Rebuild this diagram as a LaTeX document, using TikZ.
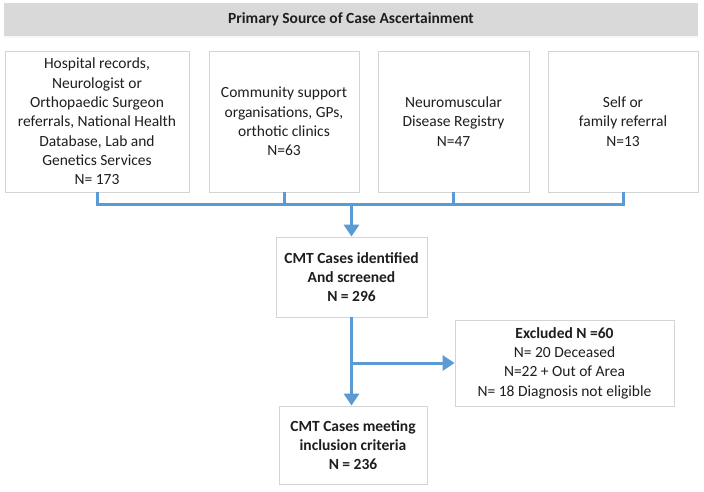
\documentclass[tikz,border=0pt]{standalone}
\usepackage{fontspec}
\setmainfont{Carlito}
\usetikzlibrary{arrows.meta,shadows}
\definecolor{flowblue}{HTML}{5B9BD5}
\definecolor{boxline}{HTML}{D4D4D4}
\definecolor{headgray}{HTML}{D9D9D9}
\definecolor{textdark}{HTML}{1E1E1E}

\begin{document}
\begin{tikzpicture}[x=1pt,y=-1pt,
  every node/.style={font=\fontsize{15.5}{19.3}\selectfont,text=textdark},
  srcbox/.style={draw=boxline,line width=0.8pt,fill=white,align=center,inner sep=2pt,
    drop shadow={shadow xshift=1pt,shadow yshift=-1pt,opacity=0.12}},
  headbar/.style={fill=headgray,minimum width=694pt,minimum height=33pt,
    drop shadow={shadow xshift=0pt,shadow yshift=-2pt,opacity=0.15,fill=flowblue!40}},
  flow/.style={draw=flowblue,line width=3pt},
  flowarrow/.style={flow,-{Triangle[length=12pt,width=15pt]}}]
\useasboundingbox (0,0) rectangle (704,491);

% Header
\node[headbar] (head) at (351,19.5) {\bfseries Primary Source of Case Ascertainment};

% Source boxes
\node[srcbox,minimum width=184pt,minimum height=141pt] (src1) at (97,121.5)
  {Hospital records,\\Neurologist or\\Orthopaedic Surgeon\\referrals, National Health\\Database, Lab and\\Genetics Services\\N= 173};
\node[srcbox,minimum width=150pt,minimum height=141pt] (src2) at (284,121.5)
  {Community support\\organisations, GPs,\\orthotic clinics\\N=63};
\node[srcbox,minimum width=151pt,minimum height=141pt] (src3) at (453.5,121.5)
  {Neuromuscular\\Disease Registry\\N=47};
\node[srcbox,minimum width=150pt,minimum height=141pt] (src4) at (623,121.5)
  {Self or\\family referral\\N=13};

% Screening and outcome boxes
\node[srcbox,minimum width=151pt,minimum height=80pt] (screen) at (351.5,277)
  {\bfseries CMT Cases identified\\\bfseries And screened\\\bfseries N = 296};
\node[srcbox,minimum width=219pt,minimum height=86pt] (excl) at (564.5,363)
  {\bfseries Excluded N =60\\N= 20 Deceased\\N=22 + Out of Area\\N= 18 Diagnosis not eligible};
\node[srcbox,minimum width=148pt,minimum height=78pt] (incl) at (353,445)
  {\bfseries CMT Cases meeting\\\bfseries inclusion criteria\\\bfseries N = 236};

% Connectors
\coordinate (bus) at (351.5,204);
\foreach \s in {src1,src2,src3,src4}
  \draw[flow] (\s.south) |- (bus);
\draw[flowarrow] (bus) -- (screen.north);
\draw[flowarrow] (screen.south) -- (screen.south |- incl.north);
\coordinate (branch) at (screen.south |- excl.west);
\draw[flowarrow] ([xshift=-1.5pt]branch) -- (excl.west);
\end{tikzpicture}
\end{document}
